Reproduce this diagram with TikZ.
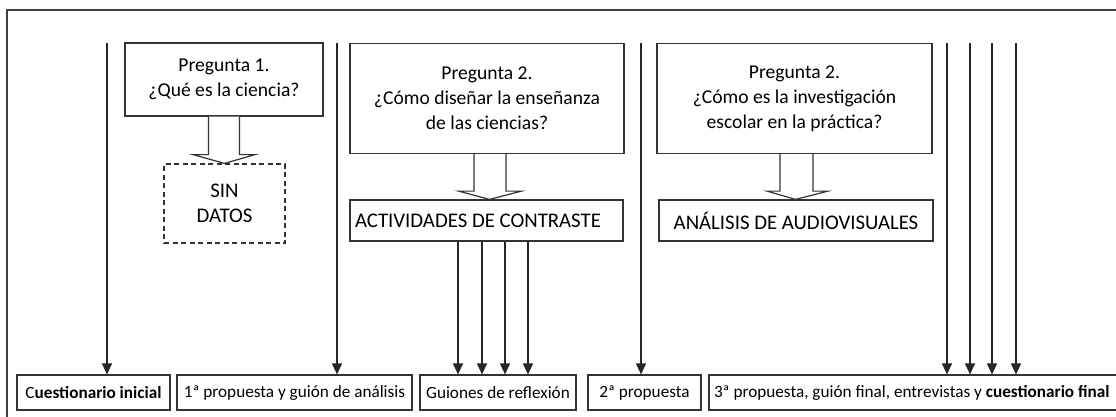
\documentclass[tikz,border=0pt]{standalone}
\usepackage{fontspec}
\setmainfont{Carlito}
\usetikzlibrary{arrows.meta,calc}
\begin{document}
\begin{tikzpicture}[x=1pt,y=-1pt,
  ln/.style={draw=black!80,line width=1.2pt},
  qbox/.style={ln,rectangle,inner sep=0pt,align=center,font=\fontsize{19.6}{25}\selectfont},
  mbox/.style={ln,rectangle,inner sep=0pt,align=center,font=\fontsize{20.8}{25}\selectfont},
  bbox/.style={ln,rectangle,inner sep=0pt,minimum height=35pt,align=center,font=\fontsize{17.2}{19}\selectfont},
  arr/.style={draw=black!85,line width=1.2pt,-{Triangle[length=11pt,width=10pt]}},
  blk/.style={draw=black!80,line width=1.2pt,fill=white,line join=miter}]
\clip (0,0) rectangle (1116,416);
\fill[white] (0,0) rectangle (1116,416);
% frame
\draw[draw=black!75,line width=1.4pt] (7,10) rectangle (1140,440);
% question boxes
\node[qbox,minimum width=198pt,minimum height=73pt] (p1) at (224,79.5) {Pregunta 1.\\¿Qué es la ciencia?};
\node[qbox,minimum width=274pt,minimum height=110pt] (p2) at (487,98.5) {Pregunta 2.\\¿Cómo diseñar la enseñanza\\de las ciencias?};
\node[qbox,minimum width=275pt,minimum height=110pt] (p3) at (794.5,98.5) {Pregunta 2.\\¿Cómo es la investigación\\escolar en la práctica?};
% middle boxes
\node[mbox,dashed,dash pattern=on 5pt off 3.5pt,minimum width=121pt,minimum height=79pt] (sd) at (224.5,203.5) {SIN\\DATOS};
\node[mbox,minimum width=273pt,minimum height=41pt] (ac) at (486.5,220.5) {};
\node[mbox,draw=none,anchor=west] (act) at ([xshift=5pt]ac.west) {ACTIVIDADES DE CONTRASTE};
\node[mbox,minimum width=274pt,minimum height=41pt] (an) at (796,220.5) {ANÁLISIS DE AUDIOVISUALES};
% bottom boxes
\node[bbox,minimum width=153pt] (ci) at (93.5,392.5) {C\textbf{uestionario inicial}};
\node[bbox,minimum width=235pt] (pr1) at (294.5,392.5) {1ª propuesta y guión de análisis};
\node[bbox,minimum width=156pt] (gu) at (498,392.5) {Guiones de reflexión};
\node[bbox,minimum width=113pt] (pr2) at (644.5,392.5) {2ª propuesta};
\node[bbox,minimum width=413pt] (pr3) at (915.5,392.5) {};
\node[bbox,draw=none,anchor=west] (pr3t) at ([xshift=5pt]pr3.west) {3ª propuesta, guión final, entrevistas y \textbf{cuestionario final}};
% block arrows
\draw[blk] ($(p1.south)+(-15.5,0)$) -- ($(p1.south)+(-15.5,38)$) -- ($(p1.south)+(-31,38)$) -- (sd.north) -- ($(p1.south)+(31,38)$) -- ($(p1.south)+(15.5,38)$) -- ($(p1.south)+(15.5,0)$);
\draw[blk] ($(p2.south)+(-13,0)$) -- ($(p2.south)+(-13,37)$) -- ($(p2.south)+(-28.5,37)$) -- ($(ac.north)+(3,0)$) -- ($(p2.south)+(34.5,37)$) -- ($(p2.south)+(19,37)$) -- ($(p2.south)+(19,0)$);
\draw[blk] ($(p3.south)+(-14.5,0)$) -- ($(p3.south)+(-14.5,37)$) -- ($(p3.south)+(-27.5,37)$) -- ($(an.north)+(-0.5,0)$) -- ($(p3.south)+(33.5,37)$) -- ($(p3.south)+(18.5,37)$) -- ($(p3.south)+(18.5,0)$);
% top coordinates of long arrows
\coordinate (t1) at (107,43);
\coordinate (t2) at (337,43);
\coordinate (t3) at (641,43);
\coordinate (t4) at (947,43);
\coordinate (t5) at (970,43);
\coordinate (t6) at (992,43);
\coordinate (t7) at (1016,43);
\draw[arr] (t1) -- (t1 |- ci.north);
\draw[arr] (t2) -- (t2 |- pr1.north);
\draw[arr] (t3) -- (t3 |- pr2.north);
\foreach \t in {t4,t5,t6,t7} {\draw[arr] (\t) -- (\t |- pr3.north);}
% arrows from actividades
\foreach \x in {458,482,505,528} {
  \coordinate (a\x) at (\x,0);
  \draw[arr] (a\x |- ac.south) -- (a\x |- gu.north);
}
\end{tikzpicture}
\end{document}
